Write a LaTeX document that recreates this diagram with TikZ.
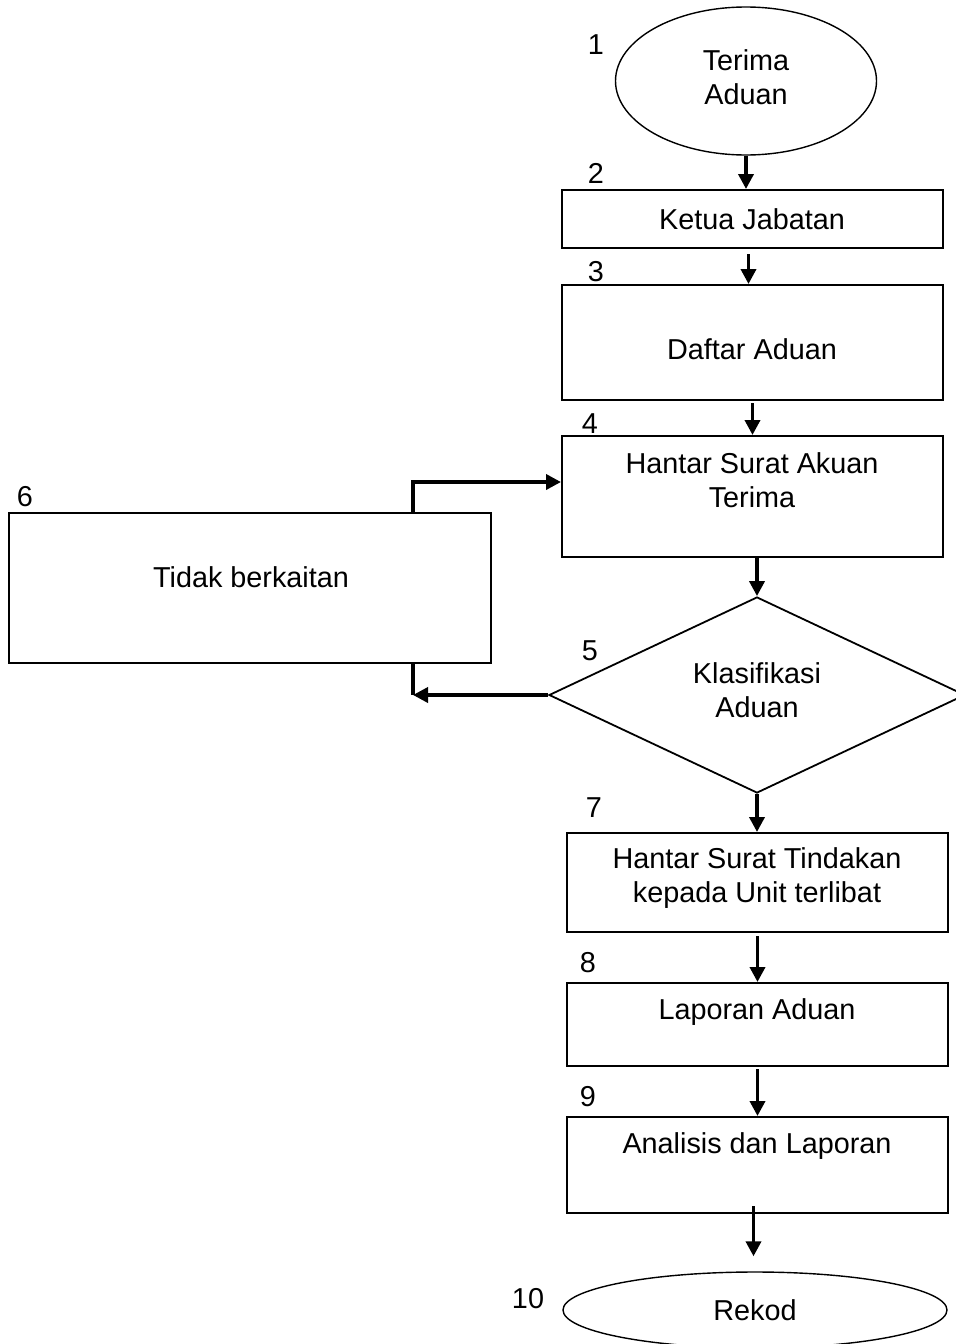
\documentclass[tikz,border=0pt]{standalone}
\usepackage{fontspec}
\setmainfont{Liberation Sans}
\usepackage{tikz}
\usetikzlibrary{shapes.geometric,arrows.meta}

\begin{document}
\begin{tikzpicture}[x=0.5pt,y=-0.5pt,font=\fontsize{14.4}{16.8}\selectfont,
  box/.style={draw,line width=1pt,rectangle,minimum width=190.5pt,inner sep=0pt},
  term/.style={draw,line width=0.7pt,ellipse,align=center,inner sep=0pt},
  txt/.style={align=center,inner sep=0pt},
  num/.style={inner sep=0pt},
  flow/.style={line width=1.8pt,-{Triangle[length=7.5pt,width=7.5pt]}},
  back/.style={line width=1.8pt}]
\useasboundingbox (0,0) rectangle (956,1344);
\node[term,minimum width=130.5pt,minimum height=74pt,text depth=4pt] (s_1) at (746,81) {Terima\\Aduan};
\node[box,minimum height=29pt] (s_2) at (752.5,219) {};
\node[box,minimum height=57.5pt] (s_3) at (752.5,342.5) {};
\node[box,minimum height=60.5pt] (s_4) at (752.5,496.5) {};
\node[draw,line width=0.9pt,diamond,minimum width=208pt,minimum height=98pt,align=center,inner sep=0pt,text depth=5pt] (s_5) at (757,695) {Klasifikasi\\Aduan};
\node[box,minimum width=241pt,minimum height=75pt] (s_6) at (250,588) {};
\node[box,minimum height=49.5pt] (s_7) at (757.5,882.5) {};
\node[box,minimum height=41.5pt] (s_8) at (757.5,1024.5) {};
\node[box,minimum height=48pt] (s_9) at (757.5,1165) {};
\node[term,minimum width=192pt,minimum height=38pt] (s_10) at (755,1310) {Rekod};

\node[txt] (t_2) at (752,219) {Ketua Jabatan};
\node[txt] (t_3) at (752,349) {Daftar Aduan};
\node[txt] (t_4) at (752,480) {Hantar Surat Akuan\\Terima};
\node[txt] (t_6) at (251,577) {Tidak berkaitan};
\node[txt] (t_7) at (757,878) {Hantar Surat Tindakan\\kepada Unit terlibat};
\node[txt] (t_8) at (757,1012) {Laporan Aduan};
\node[txt] (t_9) at (757,1146) {Analisis dan Laporan};

\node[num] (n_1) at (596,45) {1};
\node[num] (n_2) at (596,173) {2};
\node[num] (n_3) at (596,272) {3};
\node[num] (n_4) at (590,424) {4};
\node[num] (n_5) at (590,651) {5};
\node[num] (n_6) at (25,497) {6};
\node[num] (n_7) at (594,808) {7};
\node[num] (n_8) at (588,963) {8};
\node[num] (n_9) at (588,1097) {9};
\node[num] (n_10) at (528,1299) {10};

\path[flow]
(s_1.south) edge (s_1.south |- s_2.north)
([xshift=-2pt]s_2.south) edge[shorten <=2.5pt] ([xshift=-2pt]s_3.north)
(s_3.south) edge[shorten <=1pt] (s_4.north)
(s_4.south -| s_5.north) edge (s_5.north)
(s_5.south) edge (s_5.south |- s_7.north)
(s_7.south) edge[shorten <=1.5pt] (s_8.north)
(s_8.south) edge[shorten <=1pt] (s_9.north)
([xshift=-2pt]s_9.south) edge[shorten <=-4pt,shorten >=7.5pt] ([xshift=-2pt]s_9.south |- s_10.north)
;

\coordinate (c_6) at ([xshift=81.5pt]s_6.south |- s_5.west);
\draw[flow] ([xshift=81.5pt]s_6.north) |- ([yshift=7.25pt]s_4.west);
\draw[flow] (s_5.west) -- (c_6);
\draw[back] ([xshift=81.5pt]s_6.south) -- (c_6);
\end{tikzpicture}
\end{document}
